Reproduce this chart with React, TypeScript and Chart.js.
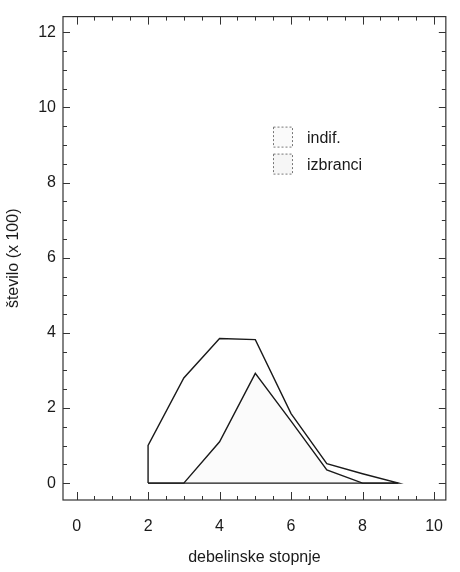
import React, { useEffect, useRef } from "react";
import { Chart, registerables } from "chart.js";

Chart.register(...registerables);

// ---- data ----
const classes = [2, 3, 4, 5, 6, 7, 8, 9];
const indif = [1.0, 2.8, 3.85, 3.82, 1.85, 0.52, 0.25, 0];
const izbranci = [0, 0, 1.1, 2.92, 1.65, 0.35, 0, 0];
const xTickValues = [0, 2, 4, 6, 8, 10];
const yTickValues = [0, 2, 4, 6, 8, 10, 12];
const legendLabels = ["indif.", "izbranci"];
const xTitle = "debelinske stopnje";
const yTitle = "število (x 100)";

const FONT = "'Liberation Sans', Arial, Helvetica, sans-serif";
const INK = "#1a1a1a";

const framePlugin = {
  id: "frameTicks",
  afterDraw(chart: any) {
    const { ctx, chartArea: a, scales } = chart;
    const xs = scales.x;
    const ys = scales.y;
    ctx.save();
    ctx.strokeStyle = "#333";
    ctx.lineWidth = 1.2;
    ctx.strokeRect(a.left, a.top, a.right - a.left, a.bottom - a.top);
    ctx.lineWidth = 1;
    for (let v = 0; v <= 10.001; v += 0.5) {
      const px = Math.round(xs.getPixelForValue(v)) + 0.5;
      const major = Math.abs(v / 2 - Math.round(v / 2)) < 1e-6;
      const len = major ? 8 : 4;
      ctx.beginPath();
      ctx.moveTo(px, a.bottom);
      ctx.lineTo(px, a.bottom - len);
      ctx.moveTo(px, a.top);
      ctx.lineTo(px, a.top + len);
      ctx.stroke();
    }
    for (let v = 0; v <= 12.001; v += 0.5) {
      const py = Math.round(ys.getPixelForValue(v)) + 0.5;
      const major = Math.abs(v / 2 - Math.round(v / 2)) < 1e-6;
      const len = major ? 7 : 4;
      ctx.beginPath();
      ctx.moveTo(a.left, py);
      ctx.lineTo(a.left + len, py);
      ctx.moveTo(a.right, py);
      ctx.lineTo(a.right - len, py);
      ctx.stroke();
    }
    // legend
    const lx = a.left + 210;
    const ly = a.top + 110;
    const fills = ["#fafafa", "#f6f6f6"];
    legendLabels.forEach((lab, i) => {
      const top = ly + i * 27;
      ctx.fillStyle = fills[i];
      ctx.fillRect(lx, top, 19, 20);
      ctx.setLineDash([2, 2]);
      ctx.strokeStyle = "#777";
      ctx.strokeRect(lx + 0.5, top + 0.5, 19, 20);
      ctx.setLineDash([]);
      ctx.fillStyle = INK;
      ctx.font = `16px ${FONT}`;
      ctx.textBaseline = "middle";
      ctx.textAlign = "left";
      ctx.fillText(lab, lx + 34, top + 12);
    });
    ctx.restore();
  },
};

export default function App() {
  const ref = useRef<HTMLCanvasElement | null>(null);

  useEffect(() => {
    if (!ref.current) return;
    const polygon = [
      { x: classes[0], y: 0 },
      ...classes.map((x, i) => ({ x, y: indif[i] })),
      { x: classes[0], y: 0 },
    ];
    const inner = classes.map((x, i) => ({ x, y: izbranci[i] }));
    const chart = new Chart(ref.current, {
      type: "scatter",
      data: {
        datasets: [
          {
            label: legendLabels[1],
            data: inner,
            showLine: true,
            borderColor: INK,
            borderWidth: 1.4,
            pointRadius: 0,
            fill: "origin",
            backgroundColor: "rgba(0,0,0,0.015)",
          },
          {
            label: legendLabels[0],
            data: polygon,
            showLine: true,
            borderColor: INK,
            borderWidth: 1.4,
            pointRadius: 0,
            fill: "origin",
            backgroundColor: "rgba(0,0,0,0.012)",
          },
        ],
      },
      options: {
        responsive: false,
        animation: false,
        layout: { padding: { top: 13, right: 2, left: 0, bottom: 0 } },
        plugins: { legend: { display: false }, tooltip: { enabled: false } },
        scales: {
          x: {
            type: "linear",
            min: -0.38,
            max: 10.33,
            afterBuildTicks: (s: any) => {
              s.ticks = xTickValues.map((v) => ({ value: v }));
            },
            afterFit: (s: any) => {
              s.height = 72;
            },
            grid: { display: false, drawTicks: false },
            border: { display: false },
            ticks: {
              color: INK,
              padding: 17,
              font: { family: FONT, size: 16 },
            },
            title: {
              display: true,
              text: xTitle,
              color: INK,
              font: { family: FONT, size: 16 },
              padding: { top: 0, bottom: 5 },
            },
          },
          y: {
            type: "linear",
            min: -0.45,
            max: 12.42,
            afterBuildTicks: (s: any) => {
              s.ticks = yTickValues.map((v) => ({ value: v }));
            },
            afterFit: (s: any) => {
              s.width = 63;
            },
            grid: { display: false, drawTicks: false },
            border: { display: false },
            ticks: {
              color: INK,
              padding: 7,
              font: { family: FONT, size: 16 },
            },
            title: {
              display: true,
              text: yTitle,
              color: INK,
              font: { family: FONT, size: 16 },
              padding: { top: 4, bottom: 0 },
            },
          },
        },
      },
      plugins: [framePlugin],
    });
    return () => chart.destroy();
  }, []);

  return (
    <div style={{ position: "fixed", left: 0, top: 0, width: 460, height: 572, background: "#fff" }}>
      <canvas ref={ref} width={460} height={572} style={{ display: "block" }} />
    </div>
  );
}
